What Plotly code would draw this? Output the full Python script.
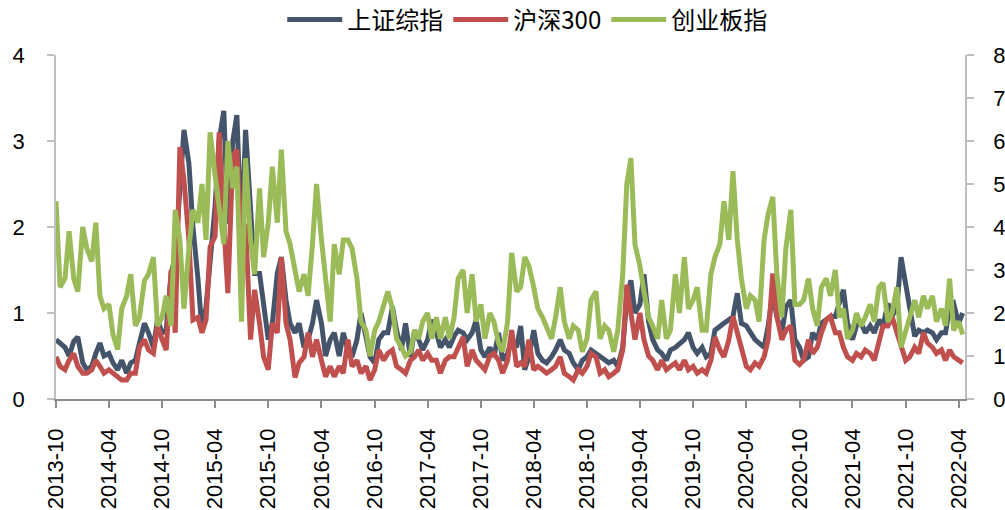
import pandas as pd
import plotly.graph_objects as go

# semi-monthly observation dates (1st and 15th of each month), 2013-10 .. 2022-04
dates = pd.date_range("2013-10-01", periods=206, freq="SMS")

names = ["上证综指", "沪深300", "创业板指"]

# 上证综指 (left axis)
sh_comp = [
    0.69, 0.65, 0.6, 0.5, 0.67, 0.72, 0.42, 0.34, 0.38, 0.53, 0.65, 0.5, 0.53, 0.42, 0.34, 0.45,
    0.3, 0.42, 0.45, 0.65, 0.88, 0.77, 0.6, 0.92, 0.77, 0.8, 1.46, 1.65, 2.4, 3.13, 2.74, 2.0,
    1.4, 0.8, 1.07, 1.65, 2.24, 3.0, 3.35, 2.04, 3.0, 3.3, 1.85, 3.13, 2.24, 1.46, 1.46, 1.07,
    0.69, 0.88, 1.46, 1.65, 1.15, 0.88, 0.77, 0.88, 0.6, 0.69, 0.88, 1.15, 0.88, 0.5, 0.69, 0.77,
    0.5, 0.77,
    0.57, 0.49, 0.69, 1.0, 0.69, 0.49, 0.42, 0.69, 0.77, 0.77, 1.07, 0.8, 0.57, 0.88, 0.49, 0.8,
    0.69, 0.57, 0.69, 0.92, 0.77, 0.6, 0.69, 0.6, 0.73, 0.8, 0.77, 0.69, 0.77, 0.92, 0.57, 0.49,
    0.6, 0.49, 0.77, 0.45, 0.53, 0.69, 0.6, 0.85, 0.34, 0.49, 0.8, 0.53, 0.45, 0.42, 0.49, 0.57,
    0.69, 0.57, 0.53, 0.42, 0.34, 0.45, 0.49, 0.57, 0.53, 0.49, 0.45, 0.42, 0.45, 0.38, 0.6, 1.15,
    1.38, 1.0,
    1.1, 1.45, 0.9, 0.69, 0.57, 0.53, 0.45, 0.57, 0.6, 0.65, 0.69, 0.77, 0.6, 0.53, 0.6, 0.49,
    0.53, 0.8, 0.85, 0.88, 0.92, 0.96, 1.23, 0.88, 0.85, 0.77, 0.69, 0.65, 0.6, 0.85, 1.23, 0.96,
    0.77, 1.07,
    1.15, 0.69, 0.6, 0.45, 0.49, 0.77, 0.69, 0.88, 0.92, 0.96, 0.96, 1.11, 1.27, 0.88, 0.69, 0.85,
    0.88, 0.77, 0.85, 0.77, 0.92, 0.85, 1.11, 0.96, 1.07, 1.65, 1.31, 1.07, 0.73, 0.8, 0.77, 0.8,
    0.77, 0.69, 0.77, 0.77, 1.07, 1.11, 0.88, 1.0,
]

# 沪深300 (left axis)
hs300 = [
    0.49, 0.38, 0.34, 0.45, 0.53, 0.38, 0.3, 0.3, 0.34, 0.45, 0.38, 0.3, 0.34, 0.3, 0.26, 0.22,
    0.22, 0.3, 0.3, 0.6, 0.69, 0.57, 0.53, 0.85, 0.69, 0.57, 1.5, 0.77, 2.93, 2.55, 1.85, 0.92,
    0.95, 0.77, 0.92, 1.77, 1.89, 3.1, 2.04, 1.23, 2.82, 2.9, 1.77, 2.04, 0.69, 1.27, 0.88, 0.49,
    0.34, 0.88, 0.77, 1.65, 0.88, 0.69, 0.25, 0.42, 0.49, 0.77, 0.49, 0.69, 0.45, 0.26, 0.38, 0.26,
    0.38, 0.3,
    0.69, 0.38, 0.45, 0.3, 0.38, 0.22, 0.34, 0.57, 0.45, 0.53, 0.57, 0.38, 0.34, 0.3, 0.45, 0.49,
    0.57, 0.45, 0.53, 0.45, 0.45, 0.3, 0.45, 0.49, 0.49, 0.6, 0.72, 0.38, 0.57, 0.45, 0.38, 0.34,
    0.5, 0.53, 0.45, 0.3, 0.45, 0.8, 0.38, 0.42, 0.38, 0.69, 0.34, 0.38, 0.34, 0.3, 0.34, 0.38,
    0.49, 0.3, 0.26, 0.22, 0.34, 0.3, 0.38, 0.53, 0.49, 0.3, 0.34, 0.26, 0.3, 0.34, 0.57, 1.33,
    1.0, 0.69,
    1.0, 0.69, 0.5, 0.45, 0.34, 0.45, 0.34, 0.38, 0.42, 0.34, 0.45, 0.34, 0.38, 0.3, 0.34, 0.3,
    0.45, 0.72, 0.57, 0.49, 0.69, 0.96, 0.77, 0.57, 0.38, 0.34, 0.42, 0.38, 0.49, 0.69, 1.46, 0.96,
    0.69, 0.8,
    0.85, 0.45, 0.4, 0.45, 0.69, 0.53, 0.6, 0.77, 0.92, 0.96, 0.77, 0.77, 0.6, 0.49, 0.45, 0.53,
    0.49, 0.57, 0.53, 0.45, 0.69, 0.85, 0.85, 0.96, 0.77, 0.6, 0.45, 0.49, 0.6, 0.53, 0.77, 0.65,
    0.6, 0.53, 0.57, 0.45, 0.57, 0.49, 0.45, 0.42,
]

# 创业板指 (right axis)
chinext = [
    4.6, 2.6, 2.8, 3.9, 2.8, 2.5, 4.0, 3.5, 3.2, 4.1, 2.4, 2.1, 2.2, 1.5, 1.15, 2.1,
    2.4, 2.9, 1.7, 1.9, 2.75, 2.9, 3.3, 1.7, 1.9, 2.4, 1.7, 4.4, 3.7, 2.1, 3.5, 4.4,
    4.1, 5.0, 3.7, 6.2, 5.2, 4.5, 3.6, 6.0, 4.9, 5.4, 1.8, 5.6, 3.7, 2.9, 4.9, 3.3,
    4.1, 5.4, 4.1, 5.8, 3.9, 3.6, 2.9, 2.5, 2.9, 2.4, 3.6, 5.0, 3.7, 2.9, 1.8, 3.6,
    2.9, 3.7,
    3.7, 3.5, 2.8, 1.8, 1.6, 1.0, 1.6, 1.8, 2.2, 2.5, 2.1, 1.4, 1.2, 1.0, 1.1, 1.6,
    1.4, 1.8, 2.0, 1.4, 1.9, 1.4, 1.9, 1.4, 1.9, 2.8, 3.0, 2.0, 2.9, 1.8, 2.2, 1.4,
    2.0, 1.8, 1.3, 1.1, 1.8, 3.4, 2.5, 2.6, 3.3, 3.1, 2.6, 2.1, 1.9, 1.7, 1.4, 1.9,
    2.6, 1.8, 1.4, 1.7, 1.6, 1.1, 1.4, 2.3, 2.5, 1.4, 1.7, 1.6, 1.1, 1.6, 2.9, 5.0,
    5.6, 3.6,
    3.1, 2.5, 1.9, 1.7, 1.4, 2.3, 1.4, 1.6, 2.9, 2.0, 3.3, 2.1, 2.3, 2.6, 1.6, 1.6,
    2.9, 3.3, 3.6, 4.6, 3.7, 5.3, 3.7, 2.8, 2.1, 2.4, 2.3, 1.8, 3.7, 4.3, 4.7, 2.9,
    1.9, 3.5,
    4.4, 2.2, 2.2, 2.3, 2.8, 2.1, 1.7, 2.6, 2.8, 2.4, 3.0, 1.9, 2.1, 1.4, 1.6, 2.0,
    1.7, 1.9, 2.2, 1.8, 2.6, 2.7, 1.8, 2.0, 2.6, 1.2, 1.6, 1.9, 2.3, 1.9, 2.4, 2.1,
    2.4, 1.8, 2.1, 1.7, 2.8, 1.6, 1.8, 1.5,
]

colors = ["#44546A", "#C0504D", "#9BBB59"]

tick_font = dict(family="Liberation Sans", size=22, color="#000000")

W, H = 1005, 510
ML, MR, MT, MB = 55.5, 39.5, 55, 111

fig = go.Figure()
fig.add_trace(go.Scatter(x=dates, y=sh_comp, name=names[0], mode="lines",
                         line=dict(color=colors[0], width=5), yaxis="y"))
fig.add_trace(go.Scatter(x=dates, y=hs300, name=names[1], mode="lines",
                         line=dict(color=colors[1], width=5), yaxis="y"))
fig.add_trace(go.Scatter(x=dates, y=chinext, name=names[2], mode="lines",
                         line=dict(color=colors[2], width=5), yaxis="y2"))

fig.update_layout(
    width=W, height=H,
    margin=dict(l=ML, r=MR, t=MT, b=MB, autoexpand=False),
    paper_bgcolor="white", plot_bgcolor="white",
    font=dict(family="Liberation Sans", size=22, color="#000000"),
    showlegend=True,
    legend=dict(orientation="h", x=(282 - ML) / (W - ML - MR), xref="paper", xanchor="left",
                y=1 - 20 / H, yref="container", yanchor="middle",
                font=dict(family="Noto Sans CJK SC", size=24, color="#000000"),
                itemwidth=55, tracegroupgap=0, bgcolor="rgba(0,0,0,0)"),
    xaxis=dict(type="date", range=["2013-10-01", "2022-04-23"],
               tick0="2013-10-01", dtick="M6", tickformat="%Y-%m", tickangle=-90,
               showgrid=False, zeroline=False, showline=True, linecolor="#8C8C8C", linewidth=1.5,
               ticks="outside", ticklen=7, tickcolor="#8C8C8C", tickwidth=1.5,
               ticklabelstandoff=12, tickfont=tick_font),
    yaxis=dict(range=[0, 4], dtick=1, showgrid=False, zeroline=False,
               showline=True, linecolor="#BFBFBF", linewidth=1.5,
               ticks="outside", ticklen=7, tickcolor="#BFBFBF", tickwidth=1.5,
               ticklabelstandoff=18, tickfont=tick_font),
    yaxis2=dict(range=[0, 8], dtick=1, overlaying="y", side="right", showgrid=False,
                zeroline=False, showline=True, linecolor="#BFBFBF", linewidth=1.5,
                ticks="outside", ticklen=7, tickcolor="#BFBFBF", tickwidth=1.5,
                ticklabelstandoff=15, tickfont=tick_font),
)

# remove the browser's default 8px page margin so the figure sits at the window corner
fig.write_html("out.html", config={"displayModeBar": False},
               post_script="document.body.style.margin='0px';")
